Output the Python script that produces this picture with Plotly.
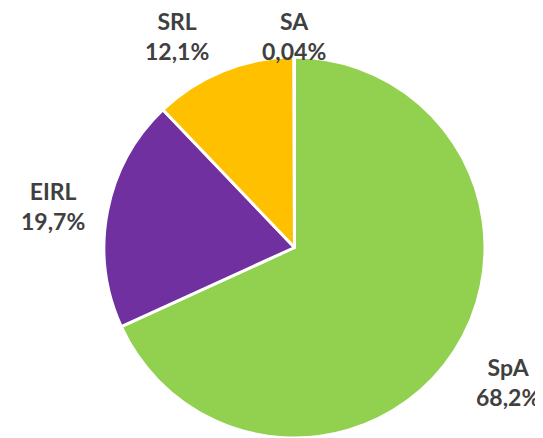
import plotly.graph_objects as go

labels = ["SpA", "EIRL", "SRL", "SA"]
values = [68.2, 19.7, 12.1, 0.04]
value_text = ["68,2%", "19,7%", "12,1%", "0,04%"]
colors = ["#92D050", "#7030A0", "#FFC000", "#5B9BD5"]

# page body has an 8px margin; figure spans the rest of the 543x438 window
W, H = 535, 430
OFF = 8

# label centres in window pixels
label_px = {
    "SpA": (508, 382),
    "EIRL": (52.5, 206),
    "SRL": (177, 36),
    "SA": (294, 36),
}

fig = go.Figure(go.Pie(
    labels=labels,
    values=values,
    sort=False,
    direction="clockwise",
    rotation=0,
    marker=dict(colors=colors, line=dict(color="white", width=3)),
    textinfo="none",
    hoverinfo="label+percent",
    domain=dict(x=[96 / W, 477 / W], y=[0, 381 / H]),
    showlegend=False,
))

for lab, txt in zip(labels, value_text):
    px, py = label_px[lab]
    fig.add_annotation(
        x=(px - OFF) / W, y=1 - (py - OFF) / H, xref="paper", yref="paper",
        text=f"<b>{lab}</b><br><b>{txt}</b>",
        showarrow=False,
        font=dict(family="Lato, Open Sans, sans-serif", size=23, color="#404040"),
        align="center",
        xanchor="center", yanchor="middle",
    )

fig.update_layout(
    width=W, height=H,
    margin=dict(l=0, r=0, t=0, b=0),
    paper_bgcolor="white",
    plot_bgcolor="white",
)

fig.write_html("out.html")
